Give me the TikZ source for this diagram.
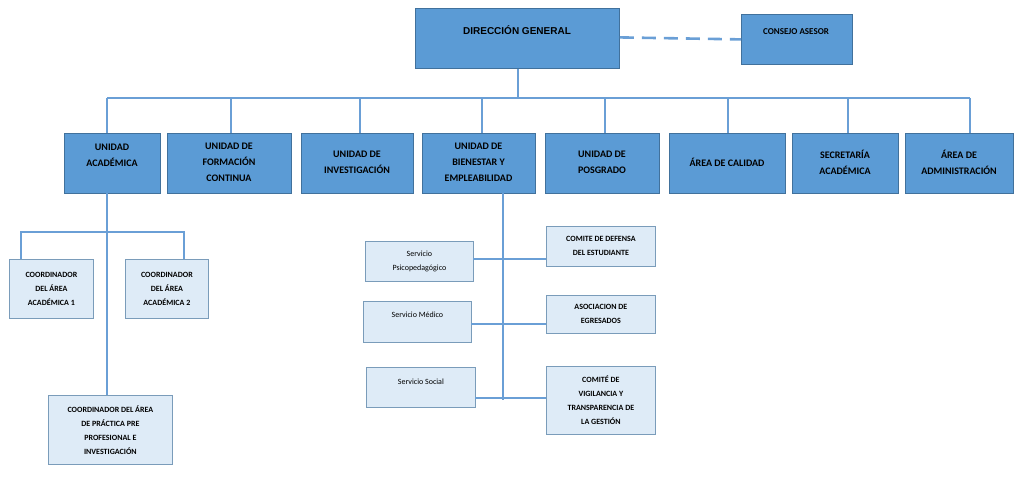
\documentclass[tikz,border=0pt]{standalone}
\usepackage{fontspec}
\setmainfont{Carlito}
\newfontfamily\arialfont{Liberation Sans}
\definecolor{boxblue}{HTML}{5B9BD5}
\definecolor{boxline}{HTML}{41719C}
\definecolor{lightbox}{HTML}{DEEBF7}
\definecolor{linkblue}{HTML}{6A9FD6}
\tikzset{
  unit/.style={draw=boxline, fill=boxblue, thick, align=center, inner sep=0pt,
    font=\bfseries\fontsize{10}{16}\selectfont},
  sub/.style={draw=boxline!70, fill=lightbox, thick, align=center, inner sep=0pt,
    font=\bfseries\fontsize{8}{14}\selectfont},
  link/.style={draw=linkblue, line width=2.6pt}
}
\begin{document}
\begin{tikzpicture}[x=1pt,y=-1pt]
  \useasboundingbox (0,0) rectangle (1024,492);

  %Top
  \node [unit, minimum width=204, minimum height=60, anchor=north west,
         font=\arialfont\bfseries\fontsize{10}{12}\selectfont] (dir) at (415,8) {};
  \node [font=\arialfont\bfseries\fontsize{10}{12}\selectfont] at (517,30) {DIRECCIÓN GENERAL};
  \node [unit, minimum width=111, minimum height=50, anchor=north west,
         font=\bfseries\fontsize{9}{12}\selectfont] (consejo) at (741,14) {};
  \node [font=\bfseries\fontsize{9}{12}\selectfont] at (796,32) {CONSEJO ASESOR};
  \draw [link, dash pattern=on 14pt off 8pt] (dir.east) ++(0,-1) -- (consejo.west);

  %Second row
  \foreach \name/\xa/\xb/\txt in {
      ua/64/160/{UNIDAD\\ACADÉMICA\\[-2pt]\mbox{}},
      fc/167/291/{UNIDAD DE\\FORMACIÓN\\CONTINUA},
      inv/301/413/{UNIDAD DE\\INVESTIGACIÓN},
      bie/422/535/{UNIDAD DE\\BIENESTAR Y\\EMPLEABILIDAD},
      pos/545/659/{UNIDAD DE\\POSGRADO},
      cal/669/785/{ÁREA DE CALIDAD},
      sec/792/898/{SECRETARÍA\\ACADÉMICA},
      adm/905/1013/{ÁREA DE\\ADMINISTRACIÓN}}{
    \node [unit, minimum width=\xb-\xa, minimum height=60, anchor=north west] (\name) at (\xa,133) {};
    \node [font=\bfseries\fontsize{10}{16}\selectfont, align=center] (\name-t) at ({(\xa+\xb)/2},162) {\txt};
  }

  %Bus
  \coordinate (bus) at (518,98);
  \draw [link] (dir.south -| bus) -- (bus);
  \draw [link] (107,98) -- (970,98);
  \foreach \name/\x in {ua/107,fc/231,inv/360,bie/482,pos/605,cal/728,sec/848,adm/970}
    \draw [link] (\x,98) -- (\x,133);

  %Unidad academica
  \node [sub, minimum width=84, minimum height=59, anchor=north west] (c1) at (9,259)
    {COORDINADOR\\DEL ÁREA\\ACADÉMICA 1};
  \node [sub, minimum width=83, minimum height=59, anchor=north west] (c2) at (125,259)
    {COORDINADOR\\DEL ÁREA\\ACADÉMICA 2};
  \node [sub, minimum width=124, minimum height=69, anchor=north west] (c3) at (48,395)
    {COORDINADOR DEL ÁREA\\DE PRÁCTICA PRE\\PROFESIONAL E\\INVESTIGACIÓN};
  \draw [link] (107,193) -- (107,395);
  \draw [link] (21,259) |- (184,232) -- (184,259);

  %Bienestar
  \node [sub, minimum width=108, minimum height=40, anchor=north west,
         font=\fontsize{8}{14}\selectfont] (sp) at (365,241) {Servicio\\Psicopedagógico};
  \node [sub, minimum width=108, minimum height=41, anchor=north west,
         font=\fontsize{8}{14}\selectfont, text depth=14pt] (sm) at (363,301) {Servicio Médico};
  \node [sub, minimum width=109, minimum height=40, anchor=north west,
         font=\fontsize{8}{14}\selectfont, text depth=12pt] (ss) at (366,367) {Servicio Social};
  \node [sub, minimum width=109, minimum height=40, anchor=north west] (cd) at (546,226)
    {COMITE DE DEFENSA\\DEL ESTUDIANTE};
  \node [sub, minimum width=109, minimum height=38, anchor=north west] (ae) at (546,295)
    {ASOCIACION DE\\EGRESADOS};
  \node [sub, minimum width=109, minimum height=68, anchor=north west] (cv) at (546,366)
    {COMITÉ DE\\VIGILANCIA Y\\TRANSPARENCIA DE\\LA GESTIÓN};
  \draw [link] (503,193) -- (503,400);
  \draw [link] (473,259) -- (546,259);
  \draw [link] (471,324) -- (546,324);
  \draw [link] (475,398) -- (546,398);
\end{tikzpicture}
\end{document}
